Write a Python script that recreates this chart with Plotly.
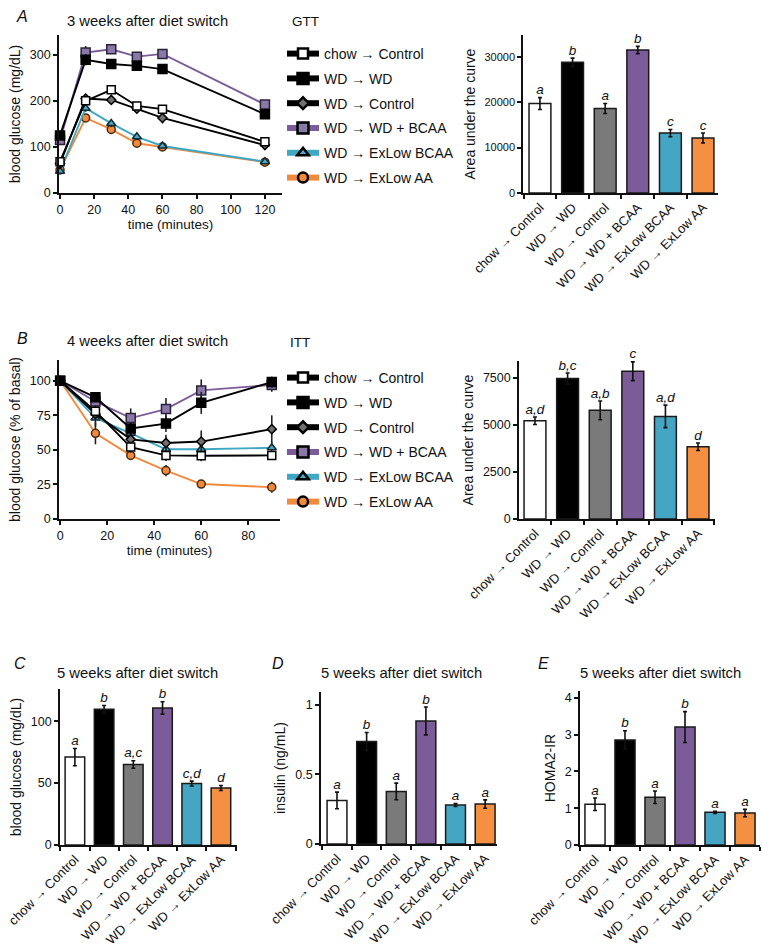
import plotly.graph_objects as go

# group names (shared by every panel)
groups = ["chow → Control", "WD → WD", "WD → Control",
          "WD → WD + BCAA", "WD → ExLow BCAA", "WD → ExLow AA"]

# A: glucose tolerance test
gtt_time = [0, 15, 30, 45, 60, 120]
gtt_chow = [68, 200, 224, 189, 182, 111]
gtt_wd = [125, 289, 280, 276, 269, 171]
gtt_wdc = [64, 205, 202, 183, 163, 104]
gtt_bcaa = [115, 305, 312, 296, 302, 192]
gtt_exb = [47, 184, 151, 122, 102, 68]
gtt_exaa = [50, 163, 138, 108, 100, 67]
gtt_chow_err = [5, 8, 10, 6, 8, 5]
gtt_wd_err = [8, 12, 8, 8, 8, 5]
gtt_wdc_err = [6, 10, 8, 8, 12, 6]
gtt_bcaa_err = [8, 14, 8, 8, 10, 8]
gtt_exb_err = [4, 8, 8, 6, 5, 3]
gtt_exaa_err = [6, 8, 8, 5, 8, 3]

gtt_auc = [19700, 28800, 18600, 31500, 13200, 12100]
gtt_auc_err = [1300, 900, 1100, 800, 800, 1100]
gtt_auc_letters = ["a", "b", "a", "b", "c", "c"]

# B: insulin tolerance test
itt_time = [0, 15, 30, 45, 60, 90]
itt_chow = [100, 78, 52, 46, 45.8, 46]
itt_wd = [100, 88, 65.5, 69, 84, 99]
itt_wdc = [100, 76, 57.6, 55, 56, 65]
itt_bcaa = [100, 85, 73, 79.5, 93, 97]
itt_exb = [100, 73, 62, 50.4, 50.4, 51.5]
itt_exaa = [100, 62, 46, 35, 25.3, 23]
itt_chow_err = [0, 4, 4, 4, 4, 3]
itt_wd_err = [0, 3, 4, 6, 8, 4]
itt_wdc_err = [0, 5, 5, 6, 8, 10]
itt_bcaa_err = [0, 4, 7, 8, 8, 5]
itt_exb_err = [0, 6, 6, 5, 4, 4]
itt_exaa_err = [0, 8, 3, 4, 2, 4]

itt_auc = [5225, 7464, 5776, 7855, 5456, 3839]
itt_auc_err = [200, 300, 500, 500, 600, 200]
itt_auc_letters = ["a,d", "b,c", "a,b", "c", "a,d", "d"]

# C, D, E: 5 weeks after switch
glucose = [71, 109.7, 65, 110.7, 49.6, 46]
glucose_err = [7, 3, 3, 5, 2, 2]
glucose_letters = ["a", "b", "a,c", "b", "c,d", "d"]
insulin = [0.313, 0.737, 0.378, 0.885, 0.28, 0.287]
insulin_err = [0.06, 0.065, 0.06, 0.1, 0.01, 0.03]
insulin_letters = ["a", "b", "a", "b", "a", "a"]
homa = [1.11, 2.86, 1.3, 3.21, 0.89, 0.87]
homa_err = [0.17, 0.25, 0.17, 0.42, 0.03, 0.1]
homa_letters = ["a", "b", "a", "b", "a", "a"]

W, H = 762, 947
FONT = "Arial, Liberation Sans, sans-serif"

bar_colors = ["#ffffff", "#000000", "#7a7a7a", "#7b5c99", "#45a6c3", "#f58f42"]
line_colors = ["#000000", "#000000", "#000000", "#7b5c99", "#3fa7c3", "#f08a3c"]
mk_symbols = ["square", "square", "diamond", "square", "triangle-up", "circle"]
mk_fill = ["#ffffff", "#000000", "#707070", "#8a78a8", "#4aa9c4", "#f08a3c"]
mk_size = [8, 9, 7, 9, 8, 8]
mk_line = ["#000000", "#000000", "#000000", "#2a2238", "#102a33", "#4a2a10"]


def dx(a, b):
    return [a / W, b / W]


def dy(top, bottom):
    return [1 - bottom / H, 1 - top / H]


fig = go.Figure()

gtt_means = [gtt_chow, gtt_wd, gtt_wdc, gtt_bcaa, gtt_exb, gtt_exaa]
gtt_errs = [gtt_chow_err, gtt_wd_err, gtt_wdc_err, gtt_bcaa_err, gtt_exb_err, gtt_exaa_err]
itt_means = [itt_chow, itt_wd, itt_wdc, itt_bcaa, itt_exb, itt_exaa]
itt_errs = [itt_chow_err, itt_wd_err, itt_wdc_err, itt_bcaa_err, itt_exb_err, itt_exaa_err]

# lines: coloured ones first so the black lines sit on top
for xa, ya, t, means, errs, leg in [("x", "y", gtt_time, gtt_means, gtt_errs, "legend"),
                                    ("x3", "y3", itt_time, itt_means, itt_errs, "legend2")]:
    for i in [5, 4, 3, 2, 0, 1]:
        fig.add_trace(go.Scatter(
            x=t, y=means[i], xaxis=xa, yaxis=ya, mode="lines+markers",
            line=dict(color=line_colors[i], width=1.9),
            marker=dict(symbol=mk_symbols[i], size=mk_size[i], color=mk_fill[i],
                        line=dict(color=mk_line[i], width=1.5)),
            error_y=dict(type="data", array=errs[i], color="#222222", thickness=1.6, width=0),
            showlegend=False, cliponaxis=False))
    # legend entries
    for i in range(6):
        fig.add_trace(go.Scatter(
            x=[None], y=[None], xaxis=xa, yaxis=ya, mode="lines+markers", name=groups[i],
            line=dict(color=line_colors[i], width=6),
            marker=dict(symbol=mk_symbols[i], size=mk_size[i] + 2, color=mk_fill[i],
                        line=dict(color="#000000", width=2.5)),
            legend=leg, legendgroup=leg + str(i), showlegend=True))

# bar panels
bar_panels = [("x2", "y2", gtt_auc, gtt_auc_err, gtt_auc_letters),
              ("x4", "y4", itt_auc, itt_auc_err, itt_auc_letters),
              ("x5", "y5", glucose, glucose_err, glucose_letters),
              ("x6", "y6", insulin, insulin_err, insulin_letters),
              ("x7", "y7", homa, homa_err, homa_letters)]
for xa, ya, vals, errs, letters in bar_panels:
    fig.add_trace(go.Bar(
        x=groups, y=vals, xaxis=xa, yaxis=ya, width=0.67,
        marker=dict(color=bar_colors, line=dict(color="#1a1a1a", width=1.5)),
        error_y=dict(type="data", array=errs, color="#111111", thickness=1.6, width=2),
        showlegend=False))
    fig.add_trace(go.Scatter(
        x=groups, y=[v + e for v, e in zip(vals, errs)], xaxis=xa, yaxis=ya,
        mode="text", text=["<i>" + s + "</i>" for s in letters],
        textposition="top center", textfont=dict(size=13.5, color="#111111"),
        showlegend=False, cliponaxis=False))

line_style = dict(showline=True, linecolor="#111111", linewidth=1.6, ticks="outside",
                  ticklen=4, tickwidth=1.5, tickcolor="#111111", showgrid=False,
                  zeroline=False, automargin=False)
tick_font = dict(size=12.5, family=FONT, color="#111111")
cat_font = dict(size=13, family=FONT, color="#111111")
ytitle_font = dict(size=14, family=FONT, color="#111111")
xtitle_font = dict(size=13.5, family=FONT, color="#111111")


def cat_axis(a, b, rng, yname):
    return dict(domain=dx(a, b), anchor=yname, type="category", range=rng,
                tickson="boundaries", tickangle=-45, tickfont=cat_font, **line_style)


layout = dict(
    template="none",
    width=W, height=H, margin=dict(l=0, r=0, t=0, b=0, autoexpand=False),
    paper_bgcolor="white", plot_bgcolor="white",
    font=dict(family=FONT, color="#111111"),
    # A line
    xaxis=dict(domain=dx(59, 282), anchor="y", range=[-0.6, 130], tickvals=[0, 20, 40, 60, 80, 100, 120],
               tickfont=tick_font,
               title=dict(text="time (minutes)", font=xtitle_font, standoff=2), **line_style),
    yaxis=dict(domain=dy(35, 193), anchor="x", range=[0, 343], tickvals=[0, 100, 200, 300],
               tickfont=tick_font,
               title=dict(text="blood glucose (mg/dL)", font=ytitle_font, standoff=6), **line_style),
    # A bar
    xaxis2=cat_axis(523, 718, [-0.52, 5.46], "y2"),
    yaxis2=dict(domain=dy(35, 193), anchor="x2", range=[0, 34800], tickvals=[0, 10000, 20000, 30000],
                ticktext=["0", "10000", "20000", "30000"], tickfont=dict(tick_font, size=11),
                title=dict(text="Area under the curve", font=ytitle_font, standoff=6), **line_style),
    # B line
    xaxis3=dict(domain=dx(59, 280), anchor="y3", range=[-0.5, 93.5], tickvals=[0, 20, 40, 60, 80],
                tickfont=tick_font,
                title=dict(text="time (minutes)", font=xtitle_font, standoff=2), **line_style),
    yaxis3=dict(domain=dy(360, 519), anchor="x3", range=[0, 115], tickvals=[0, 25, 50, 75, 100],
                tickfont=tick_font,
                title=dict(text="blood glucose (% of basal)", font=ytitle_font, standoff=6), **line_style),
    # B bar
    xaxis4=cat_axis(519, 715, [-0.49, 5.52], "y4"),
    yaxis4=dict(domain=dy(361, 519), anchor="x4", range=[0, 8400], tickvals=[0, 2500, 5000, 7500],
                ticktext=["0", "2500", "5000", "7500"], tickfont=tick_font,
                title=dict(text="Area under the curve", font=ytitle_font, standoff=6), **line_style),
    # C
    xaxis5=cat_axis(60, 237, [-0.51, 5.55], "y5"),
    yaxis5=dict(domain=dy(689, 845), anchor="x5", range=[0, 126], tickvals=[0, 50, 100],
                tickfont=tick_font,
                title=dict(text="blood glucose (mg/dL)", font=ytitle_font, standoff=6), **line_style),
    # D
    xaxis6=cat_axis(321, 497, [-0.54, 5.4], "y6"),
    yaxis6=dict(domain=dy(692, 844), anchor="x6", range=[0, 1.093], tickvals=[0, 0.5, 1],
                ticktext=["0", "0.5", "1"], tickfont=tick_font,
                title=dict(text="insulin (ng/mL)", font=ytitle_font, standoff=6), **line_style),
    # E
    xaxis7=cat_axis(580, 760, [-0.5, 5.5], "y7"),
    yaxis7=dict(domain=dy(691, 845), anchor="x7", range=[0, 4.19], tickvals=[0, 1, 2, 3, 4],
                tickfont=tick_font,
                title=dict(text="HOMA2-IR", font=ytitle_font, standoff=6), **line_style),
    legend=dict(x=282 / W, y=1 - 38 / H, xanchor="left", yanchor="top", itemwidth=32,
                tracegroupgap=3.6, font=dict(size=14, family=FONT, color="#111111"),
                bgcolor="rgba(0,0,0,0)"),
    legend2=dict(x=282 / W, y=1 - 362 / H, xanchor="left", yanchor="top", itemwidth=32,
                 tracegroupgap=3.6, font=dict(size=14, family=FONT, color="#111111"),
                 bgcolor="rgba(0,0,0,0)"),
)
fig.update_layout(**layout)

notes = [("<i>A</i>", 22, 17, 16), ("<i>B</i>", 22, 338, 16), ("<i>C</i>", 20, 663, 16),
         ("<i>D</i>", 278, 663, 16), ("<i>E</i>", 543, 663, 16),
         ("3 weeks after diet switch", 147, 21, 14.8), ("GTT", 305, 22, 13.5),
         ("4 weeks after diet switch", 147, 341, 14.8), ("ITT", 300, 342, 13.5),
         ("5 weeks after diet switch", 137, 673, 14.8), ("5 weeks after diet switch", 402, 673, 14.8),
         ("5 weeks after diet switch", 660, 673, 14.8)]
for txt, px, py, fs in notes:
    fig.add_annotation(text=txt, x=px / W, y=1 - py / H, xref="paper", yref="paper",
                       showarrow=False, xanchor="center", yanchor="middle",
                       font=dict(size=fs, family=FONT, color="#111111"))

fig.write_html("out.html", config={"displayModeBar": False},
               post_script="document.body.style.margin='0';")
